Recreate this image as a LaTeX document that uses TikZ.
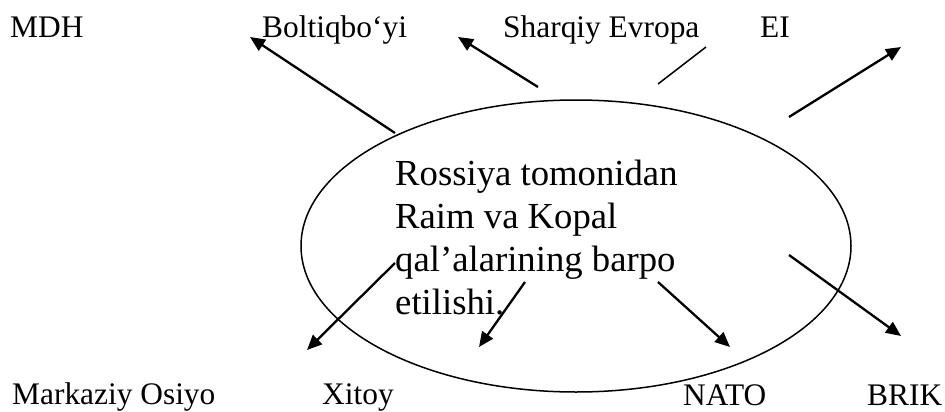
\documentclass[tikz,border=0pt]{standalone}
\usepackage{fontspec}
\setmainfont{Liberation Serif}
\usetikzlibrary{shapes.geometric,arrows.meta}
\tikzset{
  lbl/.style={anchor=base west, inner sep=0pt, font=\fontsize{31.4}{36}\selectfont},
  body/.style={anchor=base west, inner sep=0pt, align=left, font=\fontsize{36.7}{43}\selectfont},
  ring/.style={draw, ellipse, line width=1.5pt, inner sep=0pt, minimum width=550pt, minimum height=292pt},
  arr/.style={line width=2.3pt, -{Triangle[length=15pt,width=13pt]}},
  plain/.style={line width=1.5pt}
}
\begin{document}
\begin{tikzpicture}[x=1pt,y=-1pt]
\useasboundingbox (0,0) rectangle (945,412);
\node[ring] (E) at (576,246) {};
\node[body] (T) at (395,314) {Rossiya tomonidan\\Raim va Kopal\\qal’alarining barpo\\etilishi.};
% labels
\node[lbl] (mdh) at (10,38) {MDH};
\node[lbl] (bol) at (262,38) {Boltiqbo‘yi};
\node[lbl] (sha) at (503,38) {Sharqiy Evropa};
\node[lbl] (ei) at (760,38) {EI};
\node[lbl] (mo) at (12,404) {Markaziy Osiyo};
\node[lbl] (xi) at (322,404) {Xitoy};
\node[lbl] (na) at (683,405) {NATO};
\node[lbl] (br) at (867,405) {BRIK};
% connector ends
\coordinate (a1s) at (395,133); \coordinate (a1e) at (250,37);
\coordinate (a2s) at (538,87);  \coordinate (a2e) at (458,37);
\coordinate (l3s) at (658,84);  \coordinate (l3e) at (706,47);
\coordinate (a4s) at (789,117); \coordinate (a4e) at (901,47);
\coordinate (a5s) at (395,263); \coordinate (a5e) at (307,350);
\coordinate (a6s) at (525,282); \coordinate (a6e) at (479,347);
\coordinate (a7s) at (658,282); \coordinate (a7e) at (730,347);
\coordinate (a8s) at (789,255); \coordinate (a8e) at (901,336);
\draw[arr] (a1s) -- (a1e);
\draw[arr] (a2s) -- (a2e);
\draw[plain] (l3s) -- (l3e);
\draw[arr] (a4s) -- (a4e);
\draw[arr] (a5s) -- (a5e);
\draw[arr] (a6s) -- (a6e);
\draw[arr] (a7s) -- (a7e);
\draw[arr] (a8s) -- (a8e);
\end{tikzpicture}
\end{document}
